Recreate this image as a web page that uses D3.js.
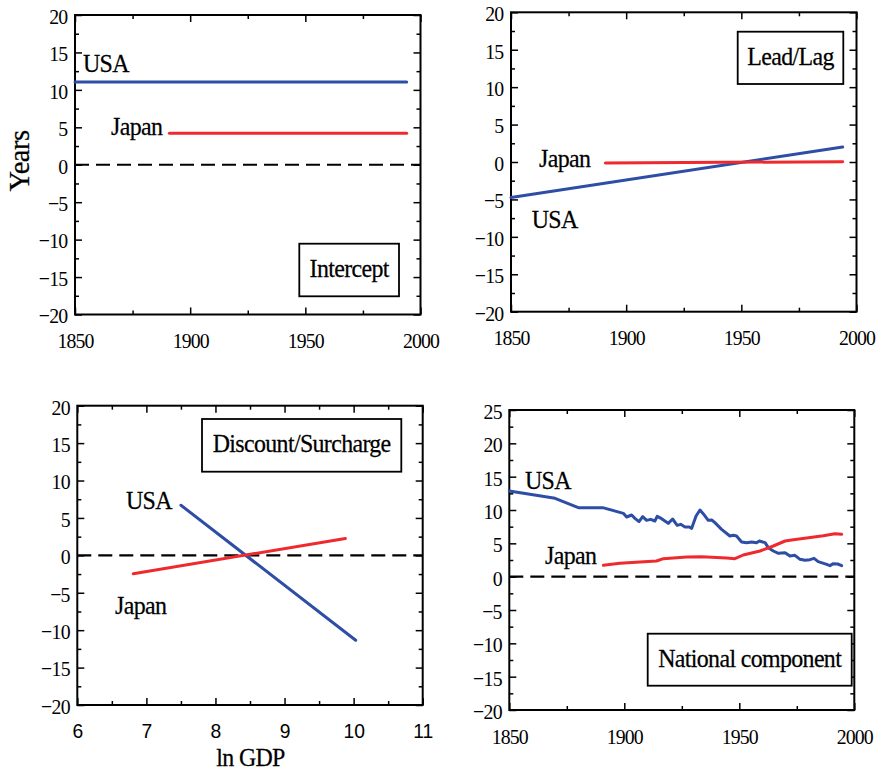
<!DOCTYPE html>
<html>
<head>
<meta charset="utf-8">
<script src="https://cdn.jsdelivr.net/npm/d3@7"></script>
<style>
  html, body { margin: 0; padding: 0; background: #fff; }
  svg { display: block; }
</style>
</head>
<body>
<script>
// ---------------- DATA ----------------
const yearTicks = [1850, 1900, 1950, 2000];
const yearMinor = [1875, 1925, 1975];
const gdpTicks = [6, 7, 8, 9, 10, 11];
const gdpMinor = [6.5, 7.5, 8.5, 9.5, 10.5];
const yTicks40 = [-20, -15, -10, -5, 0, 5, 10, 15, 20];
const yTicks45 = [-20, -15, -10, -5, 0, 5, 10, 15, 20, 25];

// Panel 1: Intercept
const interceptUSA_x = [1850, 1994];
const interceptUSA_y = [11.05, 11.05];
const interceptJapan_x = [1891, 1994];
const interceptJapan_y = [4.22, 4.22];

// Panel 2: Lead/Lag
const leadLagUSA_x = [1850, 1994];
const leadLagUSA_y = [-4.75, 2.0];
const leadLagJapan_x = [1891, 1994];
const leadLagJapan_y = [-0.15, 0.05];

// Panel 3: Discount/Surcharge (x = ln GDP)
const discountUSA_x = [7.5, 10.03];
const discountUSA_y = [6.7, -11.35];
const discountJapan_x = [6.81, 9.88];
const discountJapan_y = [-2.45, 2.25];

// Panel 4: National component
const nationalUSA_x = [1850, 1869.9, 1880, 1890.6, 1899.6, 1901, 1903.2, 1904.6, 1906.4, 1908, 1909.7, 1911.4, 1913.3, 1914.3, 1916.2, 1919.1, 1921, 1923, 1924.5, 1926.4, 1928.3, 1929.3, 1931.2, 1932.9, 1934.3, 1936.5, 1938, 1939.4, 1942.3, 1945.9, 1947.4, 1948.8, 1951, 1953.2, 1955.4, 1957.5, 1958.7, 1961.2, 1962.6, 1964.8, 1967, 1969.9, 1972, 1974.2, 1976.4, 1978.6, 1980.7, 1982.5, 1984.3, 1988, 1989.4, 1990.9, 1992.8, 1994.5];
const nationalUSA_y = [12.85, 11.75, 10.35, 10.35, 9.5, 8.95, 9.25, 8.75, 8.25, 9.0, 8.45, 8.6, 8.35, 9.05, 8.7, 8.0, 8.65, 7.7, 7.85, 7.45, 7.45, 7.25, 9.1, 10.0, 9.45, 8.45, 8.5, 8.1, 7.1, 6.1, 6.2, 6.1, 5.2, 5.1, 5.2, 5.1, 5.35, 5.1, 4.35, 3.85, 3.5, 3.6, 3.1, 3.2, 2.6, 2.45, 2.55, 2.75, 2.25, 1.85, 1.65, 1.95, 1.9, 1.65];
const nationalJapan_x = [1890.9, 1898.1, 1906.8, 1914, 1917, 1927.1, 1933.6, 1944.5, 1948.1, 1951.7, 1959, 1964.8, 1969.9, 1973.5, 1979.3, 1986.5, 1991.6, 1994.5];
const nationalJapan_y = [1.7, 2.0, 2.2, 2.35, 2.7, 2.95, 3.0, 2.8, 2.7, 3.25, 3.85, 4.6, 5.35, 5.55, 5.8, 6.15, 6.45, 6.35];

// ---------------- DRAWING ----------------
const W = 877, H = 773;
const SERIF = "'Liberation Serif', 'Times New Roman', serif";
const SANS = "'Liberation Sans', Arial, sans-serif";
const SX = 0.92;
const BLUE = "#2e4ea6";
const RED = "#ee2a2e";

const svg = d3.select("body").append("svg")
  .attr("width", W).attr("height", H)
  .attr("viewBox", `0 0 ${W} ${H}`);
svg.append("rect").attr("width", W).attr("height", H).attr("fill", "#fff");

function label(g, x, y, str, size, anchor = "start", family = SERIF, sx = SX, ls = -0.7) {
  return g.append("text")
    .attr("transform", `translate(${x},${y}) scale(${sx},1)`)
    .attr("text-anchor", anchor)
    .attr("font-family", family)
    .attr("font-size", size)
    .attr("letter-spacing", ls)
    .attr("fill", "#000")
    .attr("stroke", "#000").attr("stroke-width", 0.25)
    .text(str);
}

function panel(p) {
  const g = svg.append("g");
  const x = d3.scaleLinear().domain(p.xd).range([p.x0, p.x1]);
  const y = d3.scaleLinear().domain(p.yd).range([p.y1, p.y0]);

  const styleAxis = sel => {
    sel.select(".domain").remove();
    sel.selectAll("line").attr("stroke", "#000").attr("stroke-width", 1.5);
  };

  // bottom axis with labels
  const gb = g.append("g").attr("transform", `translate(0,${p.y1})`)
    .call(d3.axisBottom(x).tickValues(p.xt).tickSizeInner(-7).tickSizeOuter(0)
      .tickPadding(18).tickFormat(d3.format("d")))
    .call(styleAxis);
  gb.selectAll("text")
    .attr("font-family", p.xFamily).attr("font-size", p.xSize).attr("fill", "#000")
    .attr("letter-spacing", p.xLs)
    .attr("transform", `scale(${p.xScale},1)`);
  g.append("g").attr("transform", `translate(0,${p.y1})`)
    .call(d3.axisBottom(x).tickValues(p.xm).tickSizeInner(-4).tickSizeOuter(0).tickFormat(""))
    .call(styleAxis);
  // top axis
  g.append("g").attr("transform", `translate(0,${p.y0})`)
    .call(d3.axisTop(x).tickValues(p.xt).tickSizeInner(-7).tickSizeOuter(0).tickFormat(""))
    .call(styleAxis);
  g.append("g").attr("transform", `translate(0,${p.y0})`)
    .call(d3.axisTop(x).tickValues(p.xm).tickSizeInner(-4).tickSizeOuter(0).tickFormat(""))
    .call(styleAxis);

  // left axis with labels
  const yMinor = [];
  for (let v = p.yd[0] + 2.5; v < p.yd[1]; v += 5) yMinor.push(v);
  const gl = g.append("g").attr("transform", `translate(${p.x0},0)`)
    .call(d3.axisLeft(y).tickValues(p.yt).tickSizeInner(-7).tickSizeOuter(0)
      .tickPadding(7).tickFormat(d3.format("d")))
    .call(styleAxis);
  gl.selectAll("text")
    .attr("font-family", SERIF).attr("font-size", 22).attr("fill", "#000")
    .attr("letter-spacing", -0.8)
    .attr("x", -7.5 / 0.9).attr("dy", "0.38em")
    .attr("transform", `scale(0.9,1)`);
  g.append("g").attr("transform", `translate(${p.x0},0)`)
    .call(d3.axisLeft(y).tickValues(yMinor).tickSizeInner(-4).tickSizeOuter(0).tickFormat(""))
    .call(styleAxis);
  // right axis
  g.append("g").attr("transform", `translate(${p.x1},0)`)
    .call(d3.axisRight(y).tickValues(p.yt).tickSizeInner(-7).tickSizeOuter(0).tickFormat(""))
    .call(styleAxis);
  g.append("g").attr("transform", `translate(${p.x1},0)`)
    .call(d3.axisRight(y).tickValues(yMinor).tickSizeInner(-4).tickSizeOuter(0).tickFormat(""))
    .call(styleAxis);

  // zero dashed line
  if (p.zeroLine) {
    g.append("line")
      .attr("x1", p.x0).attr("x2", p.x1)
      .attr("y1", y(0)).attr("y2", y(0))
      .attr("stroke", "#000").attr("stroke-width", 2.2)
      .attr("stroke-dasharray", "14,7");
  }

  // frame
  g.append("rect")
    .attr("x", p.x0).attr("y", p.y0)
    .attr("width", p.x1 - p.x0).attr("height", p.y1 - p.y0)
    .attr("fill", "none").attr("stroke", "#000").attr("stroke-width", 2);

  // series
  const line = d3.line().x(d => x(d[0])).y(d => y(d[1]));
  p.series.forEach(s => {
    g.append("path")
      .datum(d3.zip(s.xs, s.ys))
      .attr("d", line)
      .attr("fill", "none")
      .attr("stroke", s.color)
      .attr("stroke-width", 3)
      .attr("stroke-linejoin", "round")
      .attr("stroke-linecap", "round");
  });

  // labels
  p.labels.forEach(l => label(g, l.x, l.y, l.t, 26));

  // title box
  const b = p.box;
  g.append("rect")
    .attr("x", b.x0).attr("y", b.y0)
    .attr("width", b.x1 - b.x0).attr("height", b.y1 - b.y0)
    .attr("fill", "#fff").attr("stroke", "#000").attr("stroke-width", 1.8);
  label(g, (b.x0 + b.x1) / 2, b.base, b.t, 26, "middle");
  return g;
}

// Panel 1
panel({
  x0: 75, x1: 420.5, y0: 15, y1: 314.5, zeroLine: true,
  xd: [1850, 2000], yd: [-20, 20], xt: yearTicks, xm: yearMinor, yt: yTicks40,
  xFamily: SERIF, xSize: 22, xScale: 0.9, xLs: -1,
  series: [
    { xs: interceptUSA_x, ys: interceptUSA_y, color: BLUE },
    { xs: interceptJapan_x, ys: interceptJapan_y, color: RED }
  ],
  labels: [{ t: "USA", x: 83, y: 72 }, { t: "Japan", x: 111, y: 135 }],
  box: { x0: 299.3, x1: 399, y0: 243.7, y1: 296.3, base: 277, t: "Intercept" }
});
svg.append("text")
  .attr("transform", `translate(29,161) rotate(-90) scale(0.95,1)`)
  .attr("text-anchor", "middle")
  .attr("font-family", SERIF).attr("font-size", 30)
  .attr("letter-spacing", -0.5)
  .attr("stroke", "#000").attr("stroke-width", 0.25)
  .text("Years");

// Panel 2 (no dashed zero line in the reference)
panel({
  x0: 511, x1: 856.5, y0: 12.3, y1: 311.7, zeroLine: false,
  xd: [1850, 2000], yd: [-20, 20], xt: yearTicks, xm: yearMinor, yt: yTicks40,
  xFamily: SERIF, xSize: 22, xScale: 0.9, xLs: -1,
  series: [
    { xs: leadLagUSA_x, ys: leadLagUSA_y, color: BLUE },
    { xs: leadLagJapan_x, ys: leadLagJapan_y, color: RED }
  ],
  labels: [{ t: "Japan", x: 539, y: 166.7 }, { t: "USA", x: 531.7, y: 228.3 }],
  box: { x0: 737.7, x1: 843.3, y0: 31.7, y1: 84, base: 65, t: "Lead/Lag" }
});

// Panel 3
panel({
  x0: 77.3, x1: 422.7, y0: 405.7, y1: 705, zeroLine: true,
  xd: [6, 11], yd: [-20, 20], xt: gdpTicks, xm: gdpMinor, yt: yTicks40,
  xFamily: SANS, xSize: 21, xScale: 0.92, xLs: 0,
  series: [
    { xs: discountUSA_x, ys: discountUSA_y, color: BLUE },
    { xs: discountJapan_x, ys: discountJapan_y, color: RED }
  ],
  labels: [{ t: "USA", x: 126, y: 509 }, { t: "Japan", x: 115, y: 614 }],
  box: { x0: 202, x1: 401.3, y0: 419, y1: 471.7, base: 452.3, t: "Discount/Surcharge" }
});
label(svg, 250.5, 766, "ln GDP", 26, "middle");

// Panel 4
panel({
  x0: 509.3, x1: 854.3, y0: 410, y1: 710, zeroLine: true,
  xd: [1850, 2000], yd: [-20, 25], xt: yearTicks, xm: yearMinor, yt: yTicks45,
  xFamily: SERIF, xSize: 22, xScale: 0.9, xLs: -1,
  series: [
    { xs: nationalUSA_x, ys: nationalUSA_y, color: BLUE },
    { xs: nationalJapan_x, ys: nationalJapan_y, color: RED }
  ],
  labels: [{ t: "USA", x: 525, y: 489.3 }, { t: "Japan", x: 545, y: 564 }],
  box: { x0: 647.7, x1: 851.7, y0: 633.7, y1: 685.7, base: 666.7, t: "National component" }
});
</script>
</body>
</html>
